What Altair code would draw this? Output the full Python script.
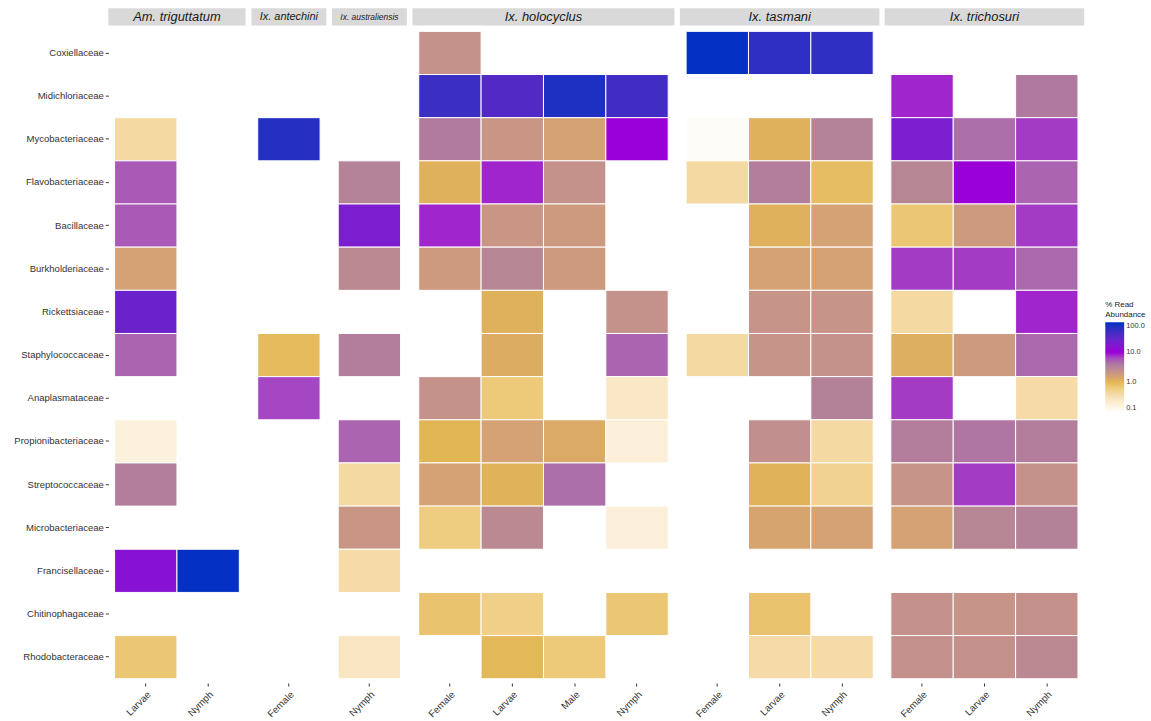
import altair as alt
import pandas as pd
import numpy as np

families = ["Coxiellaceae", "Midichloriaceae", "Mycobacteriaceae", "Flavobacteriaceae",
            "Bacillaceae", "Burkholderiaceae", "Rickettsiaceae", "Staphylococcaceae",
            "Anaplasmataceae", "Propionibacteriaceae", "Streptococcaceae",
            "Microbacteriaceae", "Francisellaceae", "Chitinophagaceae", "Rhodobacteraceae"]

species = ["Am. triguttatum", "Ix. antechini", "Ix. australiensis",
           "Ix. holocyclus", "Ix. tasmani", "Ix. trichosuri"]

stages = {
    "Am. triguttatum": ["Larvae", "Nymph"],
    "Ix. antechini": ["Female"],
    "Ix. australiensis": ["Nymph"],
    "Ix. holocyclus": ["Female", "Larvae", "Male", "Nymph"],
    "Ix. tasmani": ["Female", "Larvae", "Nymph"],
    "Ix. trichosuri": ["Female", "Larvae", "Nymph"],
}

N = None
# % read abundance per family (order of `families`), None = not detected
am_larvae = [N, N, 0.4, 5.5, 5.5, 1.5, 25, 5, N, 0.17, 3.5, N, 15, N, 0.7]
am_nymph = [N, N, N, N, N, N, N, N, N, N, N, N, 95, N, N]
ant_female = [N, N, 70, N, N, N, N, 0.9, 6.5, N, N, N, N, N, N]
aus_nymph = [N, N, N, 3.2, 20, 2.8, N, 3.5, N, 5, 0.4, 2.0, 0.38, N, 0.27]
hol_female = [2.2, 50, 3.7, 1.1, 8, 1.8, N, N, 2.2, 1.0, 1.5, 0.6, N, 0.75, N]
hol_larvae = [N, 35, 2.0, 8, 2.0, 3.0, 1.1, 1.2, 0.65, 1.5, 1.05, 2.8, N, 0.55, 0.95]
hol_male = [N, 75, 1.5, 2.2, 1.8, 1.8, N, N, N, 1.25, 4.5, N, N, N, 0.65]
hol_nymph = [N, 45, 10, N, N, N, 2.2, 5, 0.25, 0.18, N, 0.18, N, 0.7, N]
tas_female = [95, N, 0.11, 0.4, N, N, N, 0.4, N, N, N, N, N, N, N]
tas_larvae = [60, N, 1.1, 3.5, 1.1, 1.5, 2.1, 2.1, N, 2.4, 1.05, 1.4, N, 0.75, 0.38]
tas_nymph = [60, N, 3.2, 0.85, 1.5, 1.5, 2.1, 2.2, 3.3, 0.4, 0.5, 1.5, N, N, 0.38]
tri_female = [N, 8, 20, 3.0, 0.7, 7, 0.4, 1.15, 7, 3.5, 2.1, 1.5, N, 2.3, 2.3]
tri_larvae = [N, N, 4.5, 10, 1.8, 7, N, 1.8, N, 4, 7, 3.0, N, 2.1, 2.3]
tri_nymph = [N, 3.8, 7, 5, 7, 4.8, 8, 4.8, 0.38, 3.5, 2.2, 3.3, N, 2.3, 2.8]

columns = {
    ("Am. triguttatum", "Larvae"): am_larvae,
    ("Am. triguttatum", "Nymph"): am_nymph,
    ("Ix. antechini", "Female"): ant_female,
    ("Ix. australiensis", "Nymph"): aus_nymph,
    ("Ix. holocyclus", "Female"): hol_female,
    ("Ix. holocyclus", "Larvae"): hol_larvae,
    ("Ix. holocyclus", "Male"): hol_male,
    ("Ix. holocyclus", "Nymph"): hol_nymph,
    ("Ix. tasmani", "Female"): tas_female,
    ("Ix. tasmani", "Larvae"): tas_larvae,
    ("Ix. tasmani", "Nymph"): tas_nymph,
    ("Ix. trichosuri", "Female"): tri_female,
    ("Ix. trichosuri", "Larvae"): tri_larvae,
    ("Ix. trichosuri", "Nymph"): tri_nymph,
}

strip_font_sizes = {"Am. triguttatum": 13, "Ix. antechini": 11, "Ix. australiensis": 8.5,
                    "Ix. holocyclus": 13, "Ix. tasmani": 13, "Ix. trichosuri": 13}

color_domain = [-1, -0.6, -0.4, -0.2, 0, 0.15, 0.33, 0.5, 0.65, 0.8, 1, 1.3, 1.6, 1.85, 2]
color_range = ["#fffefc", "#fae7c6", "#f5d9a3", "#eecb7c", "#e2b655", "#d6a470", "#c6938a",
               "#b48496", "#ac70a8", "#a64cc0", "#9a00d8", "#7a1ecf", "#4a2cc4", "#2430c2", "#0030c4"]

FONT = "Liberation Sans"
UNIT = 62.75
HEIGHT = 660

panels = []
for i, sp in enumerate(species):
    cols = stages[sp]
    rows = []
    for st in cols:
        vals = columns[(sp, st)]
        for fam, v in zip(families, vals):
            if v is not None:
                rows.append({"species": sp, "stage": st, "family": fam,
                             "value": v, "logv": float(np.log10(v))})
    df = pd.DataFrame(rows)
    width = UNIT * (len(cols) + 0.2)
    yaxis = alt.Axis(title=None, labelFontSize=9.6, labelColor="#333333", tickSize=3,
                     tickColor="#333333", domain=False, labelPadding=2) if i == 0 else None
    heat = alt.Chart(df).mark_rect(stroke="white", strokeWidth=1).encode(
        x=alt.X("stage:N", scale=alt.Scale(domain=cols, paddingOuter=0.1, paddingInner=0),
                axis=alt.Axis(title=None, labelAngle=315, labelAlign="right", labelBaseline="top",
                              labelFontSize=9.8, labelColor="#333333", tickSize=3,
                              tickColor="#333333", domain=False, labelPadding=3)),
        y=alt.Y("family:N", scale=alt.Scale(domain=families, paddingOuter=0.1, paddingInner=0),
                axis=yaxis),
        color=alt.Color("logv:Q",
                        scale=alt.Scale(domain=color_domain, range=color_range, interpolate="rgb"),
                        legend=alt.Legend(title=["% Read", "Abundance"], orient="none",
                                          legendX=1003, legendY=276, direction="vertical",
                                          gradientLength=90, gradientThickness=19,
                                          values=[-1, 0, 1, 2],
                                          labelExpr="format(pow(10, datum.value), '.1f')",
                                          titleFontSize=8, titleFontWeight="normal",
                                          titleFont=FONT, labelFont=FONT, labelFontSize=7.5,
                                          titleColor="#222222", labelColor="#333333",
                                          gradientStrokeWidth=0, titlePadding=3)),
    )
    sdf = pd.DataFrame({"t": [sp]})
    strip = alt.Chart(sdf).mark_rect(color="#d9d9d9").encode(
        x=alt.value(0), x2=alt.value(width), y=alt.value(-19), y2=alt.value(-1.5))
    text = alt.Chart(sdf).mark_text(font=FONT, fontStyle="italic", fontSize=strip_font_sizes[sp],
                                    color="#1a1a1a", baseline="middle", align="center").encode(
        x=alt.value(width / 2), y=alt.value(-10), text="t:N")
    panels.append(alt.layer(heat, strip, text).properties(
        width=width, height=HEIGHT,
        view=alt.ViewBackground(stroke="transparent", strokeWidth=0)))

chart = alt.hconcat(*panels, spacing=5).properties(
    padding={"left": 13, "top": 6, "right": 5, "bottom": 5}
).configure_view(stroke="transparent", strokeWidth=0).configure_axis(
    labelFont=FONT, grid=False).configure(font=FONT)

chart.save("out.html", embed_options={"renderer": "svg", "actions": False})
